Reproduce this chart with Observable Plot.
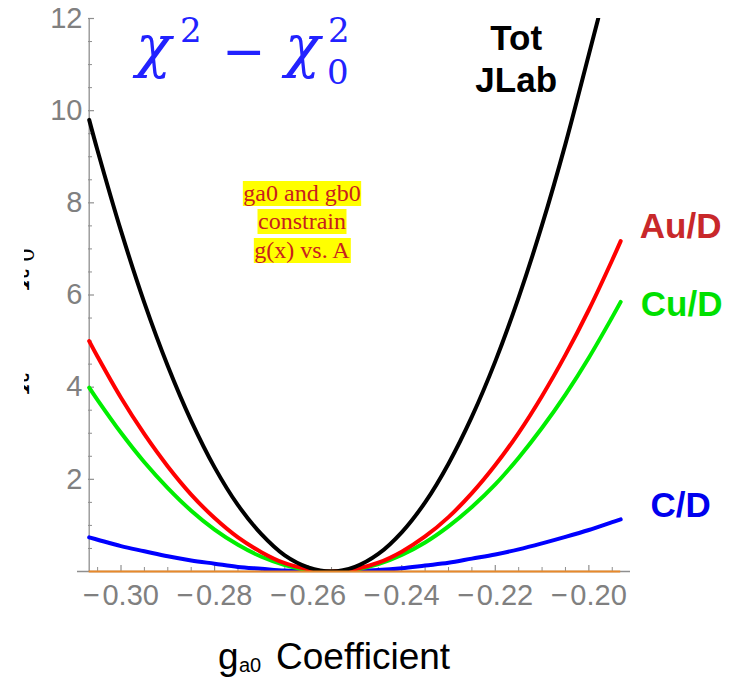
<!DOCTYPE html>
<html>
<head>
<meta charset="utf-8">
<script src="https://cdn.jsdelivr.net/npm/d3@7"></script>
<script src="https://cdn.jsdelivr.net/npm/@observablehq/plot@0.6"></script>
<style>
  html, body { margin: 0; padding: 0; background: #ffffff; }
  #chart { width: 740px; height: 680px; }
</style>
</head>
<body>
<div id="chart"></div>
<script>
// ---- data ----
const gX   = [-0.3068,-0.305,-0.300,-0.295,-0.290,-0.285,-0.280,-0.275,-0.270,-0.265,-0.260,-0.255,-0.250,-0.245,-0.240,-0.235,-0.230,-0.225,-0.220,-0.215,-0.210,-0.205,-0.200,-0.195,-0.1932];
const auD  = [5.00,4.66,3.77,2.98,2.28,1.67,1.16,0.74,0.42,0.18,0.05,0.00,0.05,0.19,0.43,0.76,1.18,1.70,2.31,3.01,3.81,4.70,5.68,6.76,7.17];
const cuD  = [3.99,3.72,3.01,2.37,1.81,1.32,0.91,0.58,0.32,0.14,0.03,0.00,0.04,0.16,0.36,0.63,0.98,1.40,1.89,2.47,3.12,3.84,4.64,5.52,5.85];
const cD   = [0.74,0.69,0.55,0.44,0.33,0.24,0.17,0.10,0.06,0.02,0.01,0.00,0.01,0.03,0.07,0.13,0.19,0.28,0.37,0.48,0.61,0.75,0.90,1.07,1.13];
const totX = [-0.3068,-0.305,-0.300,-0.295,-0.290,-0.285,-0.280,-0.275,-0.270,-0.265,-0.260,-0.255,-0.250,-0.245,-0.240,-0.235,-0.230,-0.225,-0.220,-0.215,-0.210,-0.205,-0.200,-0.198];
const tot  = [9.80,9.13,7.39,5.83,4.46,3.27,2.26,1.44,0.81,0.35,0.09,0.00,0.10,0.38,0.85,1.50,2.34,3.36,4.56,5.95,7.52,9.28,11.22,12.00];

const seriesNames = ["Tot\nJLab", "Au/D", "Cu/D", "C/D"];
const xMajor = [-0.30,-0.28,-0.26,-0.24,-0.22,-0.20];
const xMinor = [-0.305,-0.295,-0.29,-0.285,-0.275,-0.27,-0.265,-0.255,-0.25,-0.245,-0.235,-0.23,-0.225,-0.215,-0.21,-0.205,-0.195];
const yMajor = [2,4,6,8,10,12];
const yMinor = [0.5,1,1.5,2.5,3,3.5,4.5,5,5.5,6.5,7,7.5,8.5,9,9.5,10.5,11,11.5];
const xDomain = [-0.3093, -0.1911];
const yDomain = [0, 12];
const noteLines = ["ga0 and gb0", "constrain", "g(x) vs. A"];

// ---- tables ----
const rows = (xs, ys) => xs.map((x, i) => ({x, y: ys[i]}));
const totRows = rows(totX, tot), auRows = rows(gX, auD), cuRows = rows(gX, cuD), cRows = rows(gX, cD);
const last = a => a[a.length - 1];

const AX = "#8f8f8f";
const W = 740, H = 680, mL = 77, mR = 110, mT = 18, mB = 109;
const fw = W - mL - mR, fh = H - mT - mB;
const yAxisInset = 11; // y axis line sits at first data x

const chart = Plot.plot({
  width: W, height: H,
  marginLeft: mL, marginRight: mR, marginTop: mT, marginBottom: mB,
  style: {fontFamily: "'Liberation Sans', Arial, sans-serif", background: "#ffffff", overflow: "visible"},
  x: {domain: xDomain, axis: null},
  y: {domain: yDomain, axis: null},
  marks: [
    Plot.ruleY([0], {stroke: AX, strokeWidth: 1.3}),
    Plot.ruleX([gX[0]], {stroke: AX, strokeWidth: 1.3}),
    Plot.tickX(xMajor, {x: d => d, insetTop: fh - 6, stroke: AX, strokeWidth: 1.2}),
    Plot.tickX(xMinor, {x: d => d, insetTop: fh - 4, stroke: AX, strokeWidth: 1}),
    Plot.tickY(yMajor, {y: d => d, insetLeft: yAxisInset, insetRight: fw - yAxisInset - 6, stroke: AX, strokeWidth: 1.2}),
    Plot.tickY(yMinor, {y: d => d, insetLeft: yAxisInset, insetRight: fw - yAxisInset - 4, stroke: AX, strokeWidth: 1}),
    Plot.axisX({ticks: xMajor, tickSize: 0, tickPadding: 13, fontSize: 29, color: "#808080",
      tickFormat: d => d.toFixed(2).replace("-", "\u2212\u200A"), label: null}),
    Plot.text(yMajor, {y: d => d, frameAnchor: "left", dx: 5, text: d => String(d), textAnchor: "end",
      fontSize: 29, fill: "#808080"}),
    Plot.line(cRows,  {x: "x", y: "y", stroke: "#0000ff", strokeWidth: 4, curve: "catmull-rom", clip: true}),
    Plot.line(cuRows, {x: "x", y: "y", stroke: "#00ee00", strokeWidth: 4, curve: "catmull-rom", clip: true}),
    Plot.line(auRows, {x: "x", y: "y", stroke: "#ff0000", strokeWidth: 4, curve: "catmull-rom", clip: true}),
    Plot.line(totRows,{x: "x", y: "y", stroke: "#000000", strokeWidth: 4, curve: "catmull-rom", clip: true}),
    Plot.ruleY([0], {x1: gX[0], x2: last(gX), stroke: "#e8892b", strokeWidth: 2}),
    Plot.text([last(totRows)], {x: "x", y: "y", text: () => seriesNames[0], dx: -82, dy: 2, lineAnchor: "top",
      lineHeight: 1.2, fontSize: 35, fontWeight: "bold", fill: "#000000", textAnchor: "middle"}),
    Plot.text([last(auRows)], {x: "x", y: "y", text: () => seriesNames[1], dx: 60, dy: -14,
      fontSize: 35, fontWeight: "bold", fill: "#c8282a", textAnchor: "middle"}),
    Plot.text([last(cuRows)], {x: "x", y: "y", text: () => seriesNames[2], dx: 61, dy: 3,
      fontSize: 35, fontWeight: "bold", fill: "#00e000", textAnchor: "middle"}),
    Plot.text([last(cRows)], {x: "x", y: "y", text: () => seriesNames[3], dx: 60, dy: -14,
      fontSize: 35, fontWeight: "bold", fill: "#0000ee", textAnchor: "middle"})
  ]
});
document.getElementById("chart").appendChild(chart);

// ---- annotations drawn as real SVG text ----
const svg = d3.select(chart);
const blue = "#2222ff";
const serif = "'DejaVu Serif', 'Liberation Serif', serif";

const piece = (g, x, y, size, txt, italic) => g.append("text").attr("x", x).attr("y", y)
  .attr("text-anchor", "start").attr("font-size", size)
  .attr("font-style", italic ? "italic" : "normal").text(txt);

// title  χ² − χ₀²
const tg = svg.append("g").attr("fill", blue).attr("font-family", serif).attr("text-anchor", "start");
piece(tg, 136, 66, 58, "\u03c7", true);
piece(tg, 180, 42, 34, "2", false);
piece(tg, 222, 69, 52, "\u2212", false);
piece(tg, 285, 66, 58, "\u03c7", true);
piece(tg, 328, 42, 34, "2", false);
piece(tg, 327, 84, 34, "0", false);

// clipped y-axis label (only the right edge shows)
svg.append("defs").append("clipPath").attr("id", "ylabclip")
  .append("rect").attr("x", 24).attr("y", 0).attr("width", 20).attr("height", H);
const yl = svg.append("g").attr("clip-path", "url(#ylabclip)")
  .append("g").attr("transform", "translate(22,0) rotate(-90)").attr("fill", "#000")
  .attr("font-family", serif).attr("text-anchor", "start");
piece(yl, -392, 0, 36, "\u03c7", true);
piece(yl, -364, -14, 22, "2", false);
piece(yl, -340, 0, 34, "\u2212", false);
piece(yl, -288, 0, 36, "\u03c7", true);
piece(yl, -260, -14, 22, "2", false);
piece(yl, -262, 12, 22, "0", false);

// x-axis title  g_a0 Coefficient
const xt = svg.append("text").attr("x", 218).attr("y", 669).attr("font-size", 37).attr("text-anchor", "start")
  .attr("font-family", "'Liberation Sans', Arial, sans-serif").attr("fill", "#000");
xt.append("tspan").text("g");
xt.append("tspan").attr("x", 239).attr("font-size", 20).attr("dy", 3).text("a0");
xt.append("tspan").attr("x", 276).attr("dy", -3).text("Coefficient");

// highlighted note
const ng = svg.append("g").attr("font-family", "'Liberation Serif', serif").attr("font-size", 24);
const baselines = [201, 229, 258];
noteLines.forEach((t, i) => {
  const txt = ng.append("text").attr("x", 302).attr("y", baselines[i]).attr("text-anchor", "middle")
    .attr("fill", "#c8201e").text(t);
  const b = txt.node().getBBox();
  ng.insert("rect", "text").attr("x", b.x - 0.5).attr("y", b.y + 1).attr("width", b.width + 1)
    .attr("height", b.height - 1).attr("fill", "#ffff00");
});
</script>
</body>
</html>
